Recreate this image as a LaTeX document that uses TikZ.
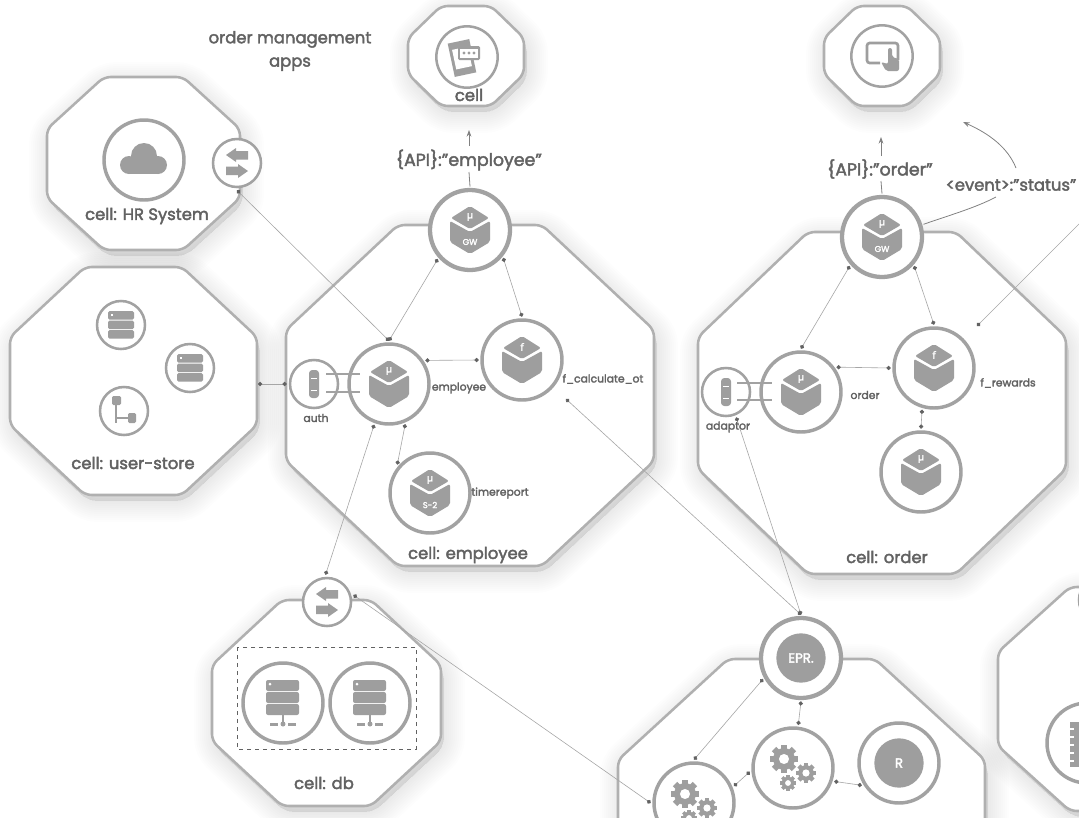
\documentclass[tikz,border=0pt]{standalone}
\usepackage{fontspec}
\setmainfont{Poppins}[RawFeature={embolden=2.4}]
\newfontfamily\greekfont[RawFeature={embolden=2}]{Open Sans}
\usetikzlibrary{arrows.meta}
\definecolor{linegray}{HTML}{B0B0B0}
\definecolor{ringgray}{HTML}{A2A2A2}
\definecolor{iconfill}{HTML}{9E9E9E}
\definecolor{textgray}{HTML}{626262}
\definecolor{wiregray}{HTML}{A6A6A6}
\tikzset{
    cellline/.style={draw=linegray, fill=white, line width=1.9pt, rounded corners=5pt},
    cellglow/.style={draw=black, fill=black, opacity=0.0065, rounded corners=7pt},
    bigring/.style={circle, draw=ringgray, fill=white, line width=2.6pt, minimum size=60pt, inner sep=0pt, outer sep=2.5pt},
    gwring/.style={bigring, line width=3.2pt},
    smallring/.style={circle, draw=ringgray, fill=white, line width=1.9pt, minimum size=36pt, inner sep=0pt, outer sep=2.5pt},
    iconring/.style={smallring, minimum size=46pt},
    coredisc/.style={circle, fill=iconfill, text=white, minimum size=37pt, inner sep=0pt, font=\fontsize{10}{12}\selectfont},
    biglabel/.style={text=textgray, font=\fontsize{12.3}{17.5}\selectfont, align=center, inner sep=0pt},
    apilabel/.style={biglabel, font=\fontsize{13}{16}\selectfont},
    smalllabel/.style={text=textgray, font=\fontsize{8.1}{10}\selectfont, inner sep=0pt},
    wire/.style={draw=wiregray, line width=0.45pt, {Circle[length=3.2pt,color=textgray]}-{Circle[length=3.2pt,color=textgray]}},
    stub/.style={draw=textgray!80, line width=0.6pt},
    tipline/.style={stub, -{Stealth[length=5pt,width=3.6pt]}},
    pipe/.style={draw=ringgray, line width=1pt},
}
\newcommand{\octpath}[6]{({#1},{#3+#6}) -- ({#1+#5},{#3}) -- ({#2-#5},{#3}) -- ({#2},{#3+#6}) -- ({#2},{#4-#6}) -- ({#2-#5},{#4}) -- ({#1+#5},{#4}) -- ({#1},{#4-#6}) -- cycle}
\newcommand{\octcell}[6]{
    \foreach \w in {2,6,...,42}
        \path[cellglow, line width=\w*0.75pt, shift={(3,6)}] \octpath{#1}{#2}{#3}{#4}{#5}{#6};
    \path[cellline] \octpath{#1}{#2}{#3}{#4}{#5}{#6};
}
\newcommand{\cubeicon}[3]{
    \begin{scope}[shift={(#1)}]
        \fill[iconfill, rounded corners=1.5pt] (0,-24) -- (19,-12) -- (0,-1) -- (-19,-12) -- cycle;
        \fill[iconfill, rounded corners=1.5pt] (-20,-9) -- (0,2) -- (20,-9) -- (20,12) -- (0,24) -- (-20,12) -- cycle;
        \node[text=white, inner sep=0pt, font=\greekfont\fontsize{7.5}{8}\selectfont] (#1top) at (0,-13) {#2};
        \node[text=white, inner sep=0pt, font=\fontsize{6.3}{7}\selectfont] (#1bottom) at (0,12) {#3};
    \end{scope}
}
\newcommand{\swapicon}[1]{
    \begin{scope}[shift={(#1)}]
        \fill[iconfill] (-11,-8) -- (-1,-15) -- (-1,-12) -- (11,-12) -- (11,-3.5) -- (-1,-3.5) -- (-1,-1) -- cycle;
        \fill[iconfill] (11,8) -- (1,1) -- (1,3.5) -- (-11,3.5) -- (-11,12) -- (1,12) -- (1,15) -- cycle;
    \end{scope}
}
\newcommand{\storeicon}[1]{
    \begin{scope}[shift={(#1)}]
        \foreach \y in {-14,-4.5,5}
            \fill[iconfill, rounded corners=1.2pt] (-13,\y) rectangle (13,\y+8.7);
        \fill[white] (-10.5,-11) rectangle (-8,-9.5);
    \end{scope}
}
\newcommand{\rackicon}[1]{
    \begin{scope}[shift={(#1)}]
        \foreach \y in {-23,-11,1}
            \fill[iconfill, rounded corners=1.5pt] (-17,\y) rectangle (16,\y+11);
        \fill[white] (-13,-19) circle (1.5);
        \fill[iconfill] (-1,12) rectangle (1,22);
        \fill[iconfill] (-13,20) rectangle (-5,23);
        \fill[iconfill] (5,20) rectangle (13,23);
        \fill[iconfill] (0,21) circle (2.5);
    \end{scope}
}
\newcommand{\caricon}[1]{
    \begin{scope}[shift={(#1)}]
        \fill[iconfill, rounded corners=2.5pt] (-5,-14) rectangle (5,14);
        \fill[white] (-3,-6) rectangle (3,-5);
        \fill[white] (-3,6) rectangle (3,7);
    \end{scope}
}
\newcommand{\gearicon}[3]{
    \begin{scope}[shift={(#1,#2)}]
        \foreach \a in {0,45,...,315}
            \fill[iconfill, rotate=\a] (-0.22*#3,0) rectangle (0.22*#3,#3);
        \fill[iconfill] (0,0) circle ({0.78*#3});
        \fill[white] (0,0) circle ({0.36*#3});
    \end{scope}
}
\newcommand{\gearset}[1]{
    \begin{scope}[shift={(#1)}]
        \gearicon{-9}{-9}{14}
        \gearicon{13}{5}{10}
        \gearicon{-5}{15}{8}
    \end{scope}
}
\begin{document}
\begin{tikzpicture}[x=0.75pt, y=-0.75pt]
    \useasboundingbox (0,0) rectangle (1079,818);
    \clip (0,0) rectangle (1079,818);
    \octcell{408}{524}{6}{106}{33}{32}
    \octcell{824}{940}{6}{106}{33}{32}
    \octcell{47}{240}{77}{250}{57}{52}
    \octcell{10}{257}{267}{495}{75}{70}
    \octcell{286}{654}{225}{566}{112}{105}
    \octcell{698}{1066}{232}{574}{110}{105}
    \octcell{212}{441}{600}{806}{70}{65}
    \octcell{618}{985}{659}{1000}{110}{101}
    \octcell{998}{1300}{587}{811}{72}{65}

    \node[iconring] (appcell) at (467,57) {};
    \node[iconring] (touchcell) at (882,56) {};
    \node[bigring] (cloud) at (144,160) {};
    \node[smallring] (hrport) at (237,163) {};
    \node[smallring] (storea) at (121,325) {};
    \node[smallring] (storeb) at (190,368) {};
    \node[smallring] (storec) at (124,411) {};
    \node[smallring] (auth) at (314,384) {};
    \node[gwring] (empgw) at (470,230) {};
    \node[bigring] (empsvc) at (389,384) {};
    \node[bigring] (empfn) at (522,360) {};
    \node[bigring] (empjob) at (430,493) {};
    \node[smallring] (dbport) at (327,602) {};
    \node[bigring] (dba) at (283,703) {};
    \node[bigring] (dbb) at (370,703) {};
    \node[smallring] (adaptor) at (726,392) {};
    \node[gwring] (ordgw) at (882,237) {};
    \node[bigring] (ordsvc) at (801,392) {};
    \node[bigring] (ordfn) at (934,368) {};
    \node[bigring] (ordlow) at (921,472) {};
    \node[gwring] (epr) at (801,658) {};
    \node[bigring] (geara) at (694,803) {};
    \node[bigring] (gearb) at (793,768) {};
    \node[bigring] (regy) at (899,763) {};
    \node[bigring] (vault) at (1087,743) {};
    \node[smallring] (vaultport) at (1103,600) {};
    \node[coredisc] (eprcore) at (epr) {EPR.};
    \node[coredisc] (regycore) at (regy) {R};

    \draw[dashed, draw=textgray, line width=0.5pt] (237,647) rectangle (416,749);

    \cubeicon{empgw}{μ}{GW}
    \cubeicon{empsvc}{μ}{}
    \cubeicon{empfn}{f}{}
    \cubeicon{empjob}{μ}{S-2}
    \cubeicon{ordgw}{μ}{GW}
    \cubeicon{ordsvc}{μ}{}
    \cubeicon{ordfn}{f}{}
    \cubeicon{ordlow}{μ}{}
    \swapicon{hrport}
    \swapicon{dbport}
    \storeicon{storea}
    \storeicon{storeb}
    \rackicon{dba}
    \rackicon{dbb}
    \caricon{auth}
    \caricon{adaptor}
    \gearset{geara}
    \gearset{gearb}

    \fill[iconfill] (129,165) circle (9);
    \fill[iconfill] (144,156) circle (13);
    \fill[iconfill] (158,165) circle (9);
    \fill[iconfill] (129,162) rectangle (158,174);

    \fill[iconfill, rotate around={12:(462,58)}] (451,41) rectangle (473,75);
    \fill[white, rotate around={12:(462,58)}] (454,48) rectangle (470,68);
    \fill[iconfill, rounded corners=1pt] (458,46) rectangle (480,60);
    \fill[white] (460,48.5) rectangle (478,57.5);
    \foreach \x in {464,469,474}
        \fill[iconfill] (\x,53) circle (1.6);

    \draw[iconfill, line width=2pt, rounded corners=2pt] (880,63) -- (867,63) -- (867,43) -- (898,43) -- (898,60);
    \fill[iconfill, rounded corners=1.5pt] (888,48) -- (892,48) -- (892,57) -- (899,59) -- (899,71) -- (886,71) -- (881,62) -- (888,64) -- cycle;

    \fill[iconfill, rounded corners=1pt] (112,396) rectangle (121,405);
    \draw[iconfill, line width=0.9pt] (116,405) -- (116,423);
    \draw[iconfill, line width=0.9pt] (116,418) -- (128,418);
    \fill[iconfill, rounded corners=1pt] (128,413) rectangle (136,423);

    \fill[iconfill] (1070,722) rectangle (1095,767);
    \foreach \y in {728,736,744,752,760}
        \fill[white] (1070,\y) rectangle (1074,\y+2);

    \coordinate (storeout) at (258,384);
    \coordinate (fnout) at (566,399);
    \coordinate (rewardin) at (977,326);
    \coordinate (rewardout) at (1085,218);
    \coordinate (eventgap) at (996,197);
    \coordinate (eventup) at (1016,168);
    \coordinate (eventtip) at (963,122);
    \coordinate (authup) at (326,374);
    \coordinate (authdown) at (326,392);
    \coordinate (svcup) at (360,374);
    \coordinate (svcdown) at (360,392);
    \coordinate (adaptup) at (737,383);
    \coordinate (adaptdown) at (737,400);
    \coordinate (ordup) at (772,383);
    \coordinate (orddown) at (772,400);
    \coordinate (empapione) at (469,172);
    \coordinate (empapitwo) at (469,146);
    \coordinate (empapitip) at (469,130);
    \coordinate (ordapione) at (881,181);
    \coordinate (ordapitwo) at (881,156);
    \coordinate (ordapitip) at (881,137);

    \draw[pipe] (authup) -- (svcup);
    \draw[pipe] (authdown) -- (svcdown);
    \draw[pipe] (adaptup) -- (ordup);
    \draw[pipe] (adaptdown) -- (orddown);

    \draw[wire] (hrport.270) -- (empsvc.90);
    \draw[wire] (empgw.222) -- (empsvc.90);
    \draw[wire] (empgw.320) -- (empfn.90);
    \draw[wire] (empsvc.33) -- (empfn.180);
    \draw[wire] (storeout) -- (auth.180);
    \draw[wire] (empsvc.250) -- (dbport.93);
    \draw[wire] (empsvc.292) -- (empjob.139);
    \draw[wire] (dbport.15) -- (geara.180);
    \draw[wire] (fnout) -- (epr.90);
    \draw[wire] (adaptor.292) -- (epr.90);
    \draw[wire] (ordgw.222) -- (ordsvc.90);
    \draw[wire] (ordgw.318) -- (ordfn.90);
    \draw[wire] (ordsvc.35) -- (ordfn.180);
    \draw[wire] (ordfn.254) -- (ordlow.90);
    \draw[wire] (epr.209) -- (geara.90);
    \draw[wire] (epr.270) -- (gearb.83);
    \draw[wire] (geara.23) -- (gearb.185);
    \draw[wire] (gearb.342) -- (regy.211);
    \draw[wire, {Circle[length=0pt]}-{Circle[length=3.2pt,color=textgray]}] (rewardout) -- (rewardin);

    \draw[stub] (empgw.90) -- (empapione);
    \draw[tipline] (empapitwo) -- (empapitip);
    \draw[stub] (ordgw.90) -- (ordapione);
    \draw[tipline] (ordapitwo) -- (ordapitip);
    \draw[stub] (ordgw.17) .. controls (950,215) and (975,208) .. (eventgap);
    \draw[tipline] (eventup) .. controls (1008,148) and (990,134) .. (eventtip);

    \node[biglabel] (appsname) at (290,51) {order management\\apps};
    \node[biglabel] (cellname) at (469,95) {cell};
    \node[biglabel] (hrname) at (147,216) {cell: HR System};
    \node[biglabel] (storename) at (133,463) {cell: user-store};
    \node[biglabel] (empname) at (468,555) {cell: employee};
    \node[biglabel] (ordname) at (887,557) {cell: order};
    \node[biglabel] (dbname) at (324,783) {cell: db};
    \node[apilabel] (empapi) at (469,160) {\{API\}:”employee”};
    \node[apilabel] (ordapi) at (880,169) {\{API\}:”order”};
    \node[biglabel] (eventname) at (1011,185) {<event>:”status”};
    \node[smalllabel] (authname) at (316,418) {auth};
    \node[smalllabel] (empsvcname) at (459,388) {employee};
    \node[smalllabel] (empfnname) at (603,379) {f\_calculate\_ot};
    \node[smalllabel] (empjobname) at (500,493) {timereport};
    \node[smalllabel] (adaptorname) at (728,427) {adaptor};
    \node[smalllabel] (ordsvcname) at (865,395) {order};
    \node[smalllabel] (ordfnname) at (1008,383) {f\_rewards};
\end{tikzpicture}
\end{document}
